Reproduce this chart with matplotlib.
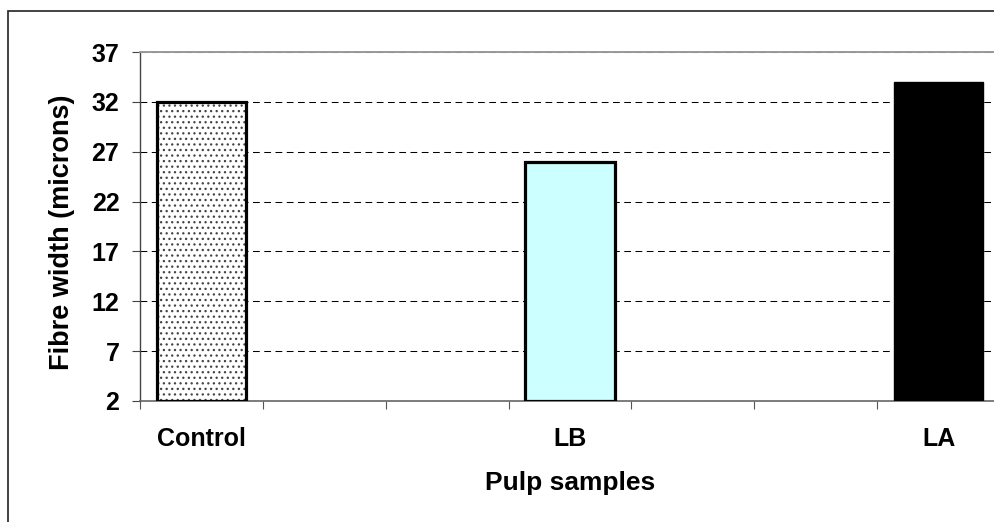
import matplotlib
matplotlib.use("Agg")
import matplotlib.pyplot as plt
import matplotlib.patches as mpatch
import numpy as np

plt.rcParams['font.family'] = ['Liberation Sans', 'DejaVu Sans']
plt.rcParams['font.weight'] = 'bold'
plt.rcParams['hatch.linewidth'] = 0.9

samples = ['Control', 'LB', 'LA']
fibre_width = [32, 26, 34]
yticks = [2, 7, 12, 17, 22, 27, 32, 37]
ymin, ymax = 2, 37

W, H = 994, 522
fig = plt.figure(figsize=(W / 100, H / 100), dpi=100)

# outer chart border (right/bottom run off the picture)
fig.patches.append(mpatch.Rectangle((8 / W, -0.2), 1.2, 1.2 - 10.5 / H,
                                    transform=fig.transFigure, fill=False,
                                    edgecolor='#222222', linewidth=1.2))

ax = fig.add_axes([140 / W, 1 - 401 / H, 860 / W, 349 / H])

# every sample sits in the middle of a 3-slot group, like the excel axis
slots = 3
x = np.arange(len(samples)) * slots
heights = np.array(fibre_width) - ymin
bw = 0.73

# control: dotted fill
ax.bar(x[0], heights[0], bw, bottom=ymin, color='white', hatch='...',
       edgecolor='#444444', linewidth=0, zorder=2)
ax.bar(x[0], heights[0], bw, bottom=ymin, fill=False, edgecolor='black',
       linewidth=2.3, zorder=3)
ax.bar(x[1], heights[1], bw, bottom=ymin, color='#ccffff', edgecolor='black',
       linewidth=2.3, zorder=3)
ax.bar(x[2], heights[2], bw, bottom=ymin, color='black', edgecolor='black',
       linewidth=1.0, zorder=3)

ax.set_xlim(-0.5, (len(samples) - 1) * slots + 0.5)
ax.set_ylim(ymin, ymax)

ax.set_yticks(yticks)
ax.set_yticklabels([str(v) for v in yticks])
ax.set_xticks(x)
ax.set_xticklabels(samples)
ax.set_xticks(np.arange(-0.5, (len(samples) - 1) * slots + 1, 1), minor=True)

ax.tick_params(axis='y', direction='out', length=5.8, width=0.8, color='#444444',
               pad=9, labelsize=18)
ax.tick_params(axis='x', which='major', length=0, pad=19, labelsize=18)
ax.tick_params(axis='x', which='minor', direction='out', length=5.8, width=0.8,
               color='#555555')

ax.yaxis.grid(True, color='black', linestyle=(0, (6.5, 4.3)), linewidth=0.75, zorder=1)
ax.set_axisbelow(True)

ax.spines['top'].set_color('#999999')
ax.spines['top'].set_linewidth(1.4)
ax.spines['right'].set_visible(False)
ax.spines['left'].set_color('#444444')
ax.spines['left'].set_linewidth(1.0)
ax.spines['bottom'].set_color('#666666')
ax.spines['bottom'].set_linewidth(1.2)

ax.set_ylabel('Fibre width (microns)', fontsize=19.5, fontweight='bold')
ax.yaxis.set_label_coords(-0.076, 0.484)
ax.set_xlabel('Pulp samples', fontsize=19, fontweight='bold')
ax.xaxis.set_label_coords(0.5, -0.2)

fig.savefig('out.png', dpi=100)
